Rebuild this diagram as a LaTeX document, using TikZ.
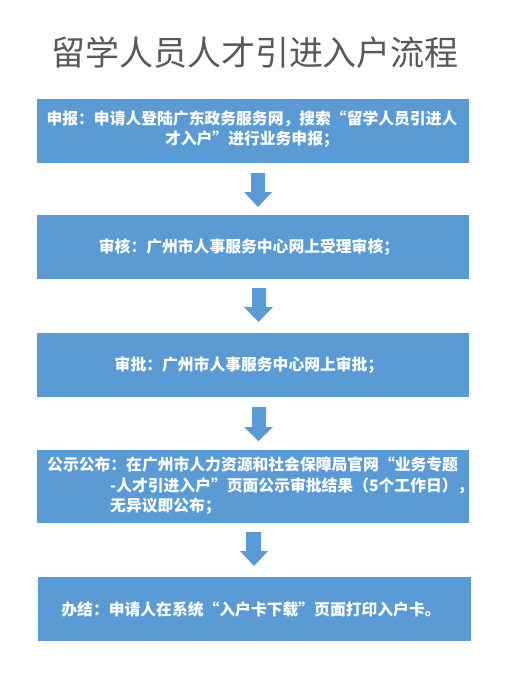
\documentclass[tikz,border=0pt]{standalone}
\usepackage{fontspec}
\newfontfamily\cjk{Noto Sans CJK SC}
\definecolor{boxblue}{HTML}{5B9BD5}
\definecolor{titlegray}{HTML}{595959}
\begin{document}
\begin{tikzpicture}[x=1pt,y=-1pt,
  stepbox/.style={fill=boxblue, draw=none, inner sep=0pt},
  steptext/.style={text=white, font=\cjk\bfseries\fontsize{15.8}{20.5}\selectfont, inner sep=0pt},
  blockarrow/.style={fill=boxblue, draw=none}]
\useasboundingbox (0,0) rectangle (511,691);
\fill[white] (0,0) rectangle (511,691);
\node[text=titlegray, font=\cjk\fontsize{34}{36}\selectfont, inner sep=0pt] (title) at (255,53) {留学人员人才引进入户流程};
% boxes
\fill[boxblue] (37,99) rectangle (469,163);
\node[steptext, align=center] (t1) at (252,129) {申报：申请人登陆广东政务服务网，搜索“留学人员引进人\\才入户”进行业务申报；};
\fill[boxblue] (37,215) rectangle (469,279);
\node[steptext] (t2) at (249,247) {审核：广州市人事服务中心网上受理审核；};
\fill[boxblue] (37,333) rectangle (469,397);
\node[steptext] (t3) at (249,365) {审批：广州市人事服务中心网上审批；};
\fill[boxblue] (37,450) rectangle (469,523);
\node[steptext, align=left, anchor=west] (t4) at (47,486) {公示公布：在广州市人力资源和社会保障局官网“业务专题\\\hspace*{63pt}-人才引进入户”页面公示审批结果（5个工作日），\\\hspace*{63pt}无异议即公布；};
\fill[boxblue] (38,577) rectangle (471,641);
\node[steptext] (t5) at (251,609) {办结：申请人在系统“入户卡下载”页面打印入户卡。};
% arrows
\fill[blockarrow] (251,173) -- (265,173) -- (265,192) -- (272,192) -- (258,207) -- (244,192) -- (251,192) -- cycle;
\fill[blockarrow] (252,288) -- (266,288) -- (266,307) -- (273,307) -- (258.5,322) -- (244,307) -- (252,307) -- cycle;
\fill[blockarrow] (252,407) -- (266,407) -- (266,427) -- (273,427) -- (258.5,441) -- (244,427) -- (252,427) -- cycle;
\fill[blockarrow] (246,532) -- (261,532) -- (261,551) -- (268,551) -- (254,566) -- (240,551) -- (246,551) -- cycle;
\end{tikzpicture}
\end{document}
